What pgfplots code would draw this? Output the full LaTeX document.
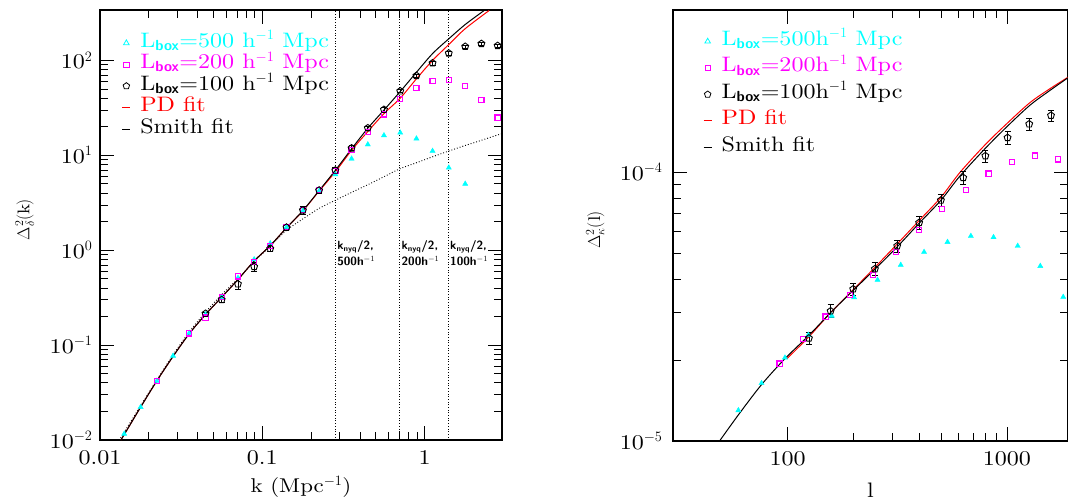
\documentclass[border=0pt]{standalone}
\usepackage{amsmath}
\usepackage{fontspec}
\setmainfont{lmroman10-regular.otf}[FakeStretch=1.15, BoldFont=lmroman10-bold.otf, ItalicFont=lmroman10-italic.otf]
\usepackage{pgfplots}
\pgfplotsset{compat=1.18}
\definecolor{cy}{rgb}{0,1,1}
\definecolor{mg}{rgb}{1,0,1}
\definecolor{rd}{rgb}{1,0,0}
\pgfplotsset{
  mylegmark/.style={legend image code/.code={\draw[##1] plot[only marks] coordinates {(4bp,0bp)};}},
  mylegline/.style={legend image code/.code={\draw[##1] (0bp,0bp) -- (8bp,0bp);}},
}
\newcommand{\Lbox}{L$_{\textsf{\textbf{box}}}$}
\begin{document}
\begin{tikzpicture}
\path[use as bounding box] (0,0) rectangle (1068bp,502bp);
% ---------------- left panel
\begin{axis}[
  scale only axis, xmode=log, ymode=log,
  axis line style={line width=1.6bp},
  major tick length=14bp, minor tick length=8bp,
  tick style={black, line width=0.8bp},
  tick label style={font=\fontsize{21}{24}\selectfont},
  xticklabel style={yshift=-7bp},
  yticklabel style={xshift=-4bp},
  xlabel style={font=\fontsize{20}{24}\selectfont},
  ylabel style={font=\fontsize{17}{20}\selectfont},
  legend cell align=left,
  at={(100bp,62bp)}, anchor=south west, width=402bp, height=430bp,
  xmin=0.01, xmax=3, ymin=0.01, ymax=340,
  xtick={0.01,0.1,1}, xticklabels={0.01,0.1,1},
  ytick={0.01,0.1,1,10,100},
  yticklabels={10$^{-2}$,10$^{-1}$,10$^{0}$,10$^{1}$,10$^{2}$},
  xlabel={k (Mpc$^{-1}$)}, ylabel={$\Delta^2_\delta(\mathrm{k})$},
  xlabel style={at={(axis description cs:0.5,-0.109)}, anchor=center},
  ylabel style={at={(axis description cs:-0.187,0.512)}, anchor=center},
  legend style={at={(axis description cs:0.054,0.948)}, anchor=north west, draw=none, fill=none,
    inner sep=0pt, font=\fontsize{21}{22}\selectfont, row sep=0.5bp,
    nodes={inner sep=1.5bp, text height=13bp, text depth=5bp}},
]
\addlegendimage{mylegmark, cy, mark=triangle, mark size=3.2bp, line width=0.8bp}
\addlegendentry{\hspace{8bp}\textcolor{cy}{\Lbox=500 h$^{-1}$ Mpc}}
\addlegendimage{mylegmark, mg, mark=square, mark size=2.6bp, line width=0.8bp}
\addlegendentry{\hspace{8bp}\textcolor{mg}{\Lbox=200 h$^{-1}$ Mpc}}
\addlegendimage{mylegmark, black, mark=pentagon, mark size=3.4bp, line width=0.8bp}
\addlegendentry{\hspace{8bp}\Lbox=100 h$^{-1}$ Mpc}
\addlegendimage{mylegline, rd, line width=0.9bp}
\addlegendentry{\hspace{8bp}\textcolor{rd}{PD fit}}
\addlegendimage{mylegline, black, line width=0.9bp}
\addlegendentry{\hspace{8bp}Smith fit}
% linear (dotted)
\addplot[black, dotted, line width=0.9bp, smooth, forget plot] coordinates {
(0.0134,0.0105) (0.0178,0.023) (0.0224,0.043) (0.0282,0.079) (0.0355,0.138)
(0.0447,0.222) (0.0562,0.34) (0.0708,0.50) (0.0891,0.76) (0.112,1.10)
(0.141,1.62) (0.178,2.14) (0.224,2.76) (0.282,3.36) (0.355,4.07) (0.447,4.9)
(0.562,5.95) (0.708,7.24) (0.891,8.35) (1.12,9.65) (1.41,11.1) (1.78,12.7)
(2.24,14.4) (2.82,16.4) (3.0,16.9)};
% vertical nyquist lines
\addplot[black, dotted, line width=0.7bp, forget plot] coordinates {(0.282,0.01) (0.282,340)};
\addplot[black, dotted, line width=0.7bp, forget plot] coordinates {(0.703,0.01) (0.703,340)};
\addplot[black, dotted, line width=0.7bp, forget plot] coordinates {(1.40,0.01) (1.40,340)};
% PD fit
\addplot[rd, line width=1bp, smooth, forget plot] coordinates {
(0.01345,0.01) (0.0141,0.0114) (0.0178,0.0222) (0.0224,0.042) (0.0282,0.076)
(0.0355,0.132) (0.0447,0.21) (0.0562,0.32) (0.0708,0.49) (0.0891,0.77)
(0.112,1.12) (0.141,1.72) (0.178,2.6) (0.224,4.2) (0.282,6.7) (0.355,11.3)
(0.447,17.8) (0.562,27.5) (0.708,40) (0.891,64) (1.12,100) (1.41,147)
(1.78,216) (2.5,336)};
% Smith fit
\addplot[black, line width=1bp, smooth, forget plot] coordinates {
(0.01345,0.01) (0.0141,0.0114) (0.0178,0.0222) (0.0224,0.042) (0.0282,0.076)
(0.0355,0.132) (0.0447,0.21) (0.0562,0.32) (0.0708,0.49) (0.0891,0.77)
(0.112,1.12) (0.141,1.72) (0.178,2.62) (0.224,4.25) (0.282,6.95) (0.355,11.7)
(0.447,19.3) (0.562,30) (0.708,47) (0.891,75) (1.12,118) (1.41,169)
(1.78,239) (2.33,336)};
% cyan 500
\addplot[cy, only marks, mark=triangle*, mark size=3bp, forget plot] coordinates {
(0.0141,0.0116) (0.0178,0.0222) (0.0224,0.042) (0.0282,0.077) (0.0355,0.134)
(0.0447,0.21) (0.0562,0.32) (0.0708,0.51) (0.0891,0.80) (0.112,1.18)
(0.141,1.75) (0.178,2.6) (0.224,4.2) (0.282,6.3) (0.355,9.2) (0.447,13.0)
(0.562,16.2) (0.708,17.3) (0.891,15.0) (1.12,11.1) (1.41,7.4) (1.78,5.0)};
% magenta 200
\addplot[mg, only marks, mark=square, mark size=2.6bp, line width=1.1bp, forget plot] coordinates {
(0.0224,0.042) (0.0355,0.133) (0.0447,0.195) (0.0562,0.32) (0.0708,0.53)
(0.0891,0.75) (0.112,1.10) (0.141,1.76) (0.178,2.64) (0.224,4.28) (0.282,6.8)
(0.355,11.3) (0.447,17.6) (0.562,27) (0.708,39.2) (0.891,51.6) (1.12,60.5)
(1.41,62.6) (1.78,54.1) (2.24,38.6) (2.82,25.0)};
% black 100
\addplot[forget plot, black, line width=0.9bp, only marks, mark=pentagon, mark size=3.6bp,
    error bars/.cd, y dir=both, y explicit,
    error bar style={line width=0.8bp, black},
    error mark options={rotate=90, mark size=3bp, black, line width=0.8bp}] coordinates {
(0.0447,0.215) +- (0,0.008) (0.0562,0.30) +- (0,0.02) (0.0708,0.44) +- (0,0.05)
(0.0891,0.67) +- (0,0.07) (0.112,1.04) +- (0,0.08) (0.141,1.74) +- (0,0.12)
(0.178,2.64) +- (0,0.25) (0.224,4.28) +- (0,0.35) (0.282,6.95) +- (0,0.5)
(0.355,11.9) +- (0,0.7) (0.447,19.4) +- (0,1.0) (0.562,30.3) +- (0,1.5)
(0.708,47.5) +- (0,2) (0.891,69) +- (0,3) (1.12,93.7) +- (0,4)
(1.41,119) +- (0,5) (1.78,140) +- (0,5) (2.24,150) +- (0,5) (2.82,143) +- (0,5)};
\node[anchor=north west, align=left, inner sep=1bp, font=\sffamily\bfseries\fontsize{12}{16}\selectfont]
  at (axis cs:0.285,1.3) {k\textsubscript{nyq}/2,\\500h$^{-1}$};
\node[anchor=north west, align=left, inner sep=1bp, font=\sffamily\bfseries\fontsize{12}{16}\selectfont]
  at (axis cs:0.71,1.3) {k\textsubscript{nyq}/2,\\200h$^{-1}$};
\node[anchor=north west, align=left, inner sep=1bp, font=\sffamily\bfseries\fontsize{12}{16}\selectfont]
  at (axis cs:1.415,1.3) {k\textsubscript{nyq}/2,\\100h$^{-1}$};
\end{axis}
% ---------------- right panel
\begin{axis}[
  scale only axis, xmode=log, ymode=log,
  axis line style={line width=1.6bp},
  major tick length=14bp, minor tick length=8bp,
  tick style={black, line width=0.8bp},
  tick label style={font=\fontsize{21}{24}\selectfont},
  xticklabel style={yshift=-7bp},
  yticklabel style={xshift=-7bp},
  xlabel style={font=\fontsize{21}{24}\selectfont},
  ylabel style={font=\fontsize{17}{20}\selectfont},
  legend cell align=left,
  at={(673bp,61bp)}, anchor=south west, width=395bp, height=431bp,
  xmin=30, xmax=1900, ymin=1e-5, ymax=4e-4,
  xtick={100,1000}, xticklabels={100,1000},
  ytick={1e-5,1e-4}, yticklabels={10$^{-5}$,10$^{-4}$},
  xlabel={l}, ylabel={$\Delta^2_\kappa(\mathrm{l})$},
  xlabel style={at={(axis description cs:0.5,-0.115)}, anchor=center},
  ylabel style={at={(axis description cs:-0.197,0.49)}, anchor=center},
  legend style={at={(axis description cs:0.076,0.952)}, anchor=north west, draw=none, fill=none,
    inner sep=0pt, font=\fontsize{21}{22}\selectfont, row sep=5.5bp,
    nodes={inner sep=1.5bp, text height=13bp, text depth=5bp}},
]
\addlegendimage{mylegmark, cy, mark=triangle, mark size=3.2bp, line width=0.8bp}
\addlegendentry{\hspace{8bp}\textcolor{cy}{\Lbox=500h$^{-1}$ Mpc}}
\addlegendimage{mylegmark, mg, mark=square, mark size=2.6bp, line width=0.8bp}
\addlegendentry{\hspace{8bp}\textcolor{mg}{\Lbox=200h$^{-1}$ Mpc}}
\addlegendimage{mylegmark, black, mark=pentagon, mark size=3.4bp, line width=0.8bp}
\addlegendentry{\hspace{8bp}\Lbox=100h$^{-1}$ Mpc}
\addlegendimage{mylegline, rd, line width=0.9bp}
\addlegendentry{\hspace{8bp}\textcolor{rd}{PD fit}}
\addlegendimage{mylegline, black, line width=0.9bp}
\addlegendentry{\hspace{8bp}Smith fit}
% PD fit
\addplot[rd, line width=1bp, smooth, forget plot] coordinates {
(99,2.02e-5) (125,2.44e-5) (157,3.0e-5) (199,3.65e-5) (250,4.42e-5) (316,5.4e-5)
(398,6.6e-5) (500,8.05e-5) (610,9.95e-5) (794,1.26e-4) (997,1.51e-4)
(1273,1.81e-4) (1572,2.04e-4) (1900,2.25e-4)};
% Smith fit
\addplot[black, line width=1bp, smooth, forget plot] coordinates {
(48.9,1.0e-5) (60,1.26e-5) (76,1.62e-5) (97,2.02e-5) (125,2.47e-5) (157,3.0e-5)
(199,3.63e-5) (250,4.35e-5) (316,5.27e-5) (398,6.45e-5) (500,7.85e-5)
(610,9.65e-5) (794,1.22e-4) (997,1.47e-4) (1273,1.77e-4) (1572,2.01e-4)
(1900,2.24e-4)};
% cyan
\addplot[cy, only marks, mark=triangle*, mark size=3bp, forget plot] coordinates {
(59.6,1.30e-5) (76,1.64e-5) (97.2,2.04e-5) (124.3,2.48e-5) (159,2.92e-5)
(201,3.42e-5) (257,3.97e-5) (328,4.51e-5) (419,5.04e-5) (536,5.49e-5)
(685,5.78e-5) (869,5.72e-5) (1120,5.31e-5) (1420,4.47e-5) (1807,3.43e-5)};
% magenta
\addplot[mg, only marks, mark=square, mark size=2.6bp, line width=1.1bp, forget plot] coordinates {
(91.9,1.94e-5) (117.5,2.39e-5) (149,2.90e-5) (192,3.49e-5) (245,4.14e-5)
(311,5.03e-5) (398,6.09e-5) (505,7.29e-5) (650,8.57e-5) (825,9.86e-5)
(1054,1.092e-4) (1346,1.151e-4) (1710,1.114e-4)};
% black
\addplot[forget plot, black, line width=0.9bp, only marks, mark=pentagon, mark size=3.6bp,
    error bars/.cd, y dir=both, y explicit,
    error bar style={line width=0.8bp, black},
    error mark options={rotate=90, mark size=3bp, black, line width=0.8bp}] coordinates {
(125,2.41e-5) +- (0,1.3e-6) (157,3.04e-5) +- (0,1.7e-6) (199,3.67e-5) +- (0,2.0e-6)
(250,4.36e-5) +- (0,2.4e-6) (316,5.31e-5) +- (0,2.8e-6) (398,6.48e-5) +- (0,3.4e-6)
(500,7.85e-5) +- (0,4.0e-6) (632,9.52e-5) +- (0,5.0e-6) (798,1.147e-4) +- (0,6.0e-6)
(1007,1.341e-4) +- (0,7.0e-6) (1264,1.507e-4) +- (0,7.5e-6) (1589,1.622e-4) +- (0,7.5e-6)};
\end{axis}
\end{tikzpicture}
\end{document}
